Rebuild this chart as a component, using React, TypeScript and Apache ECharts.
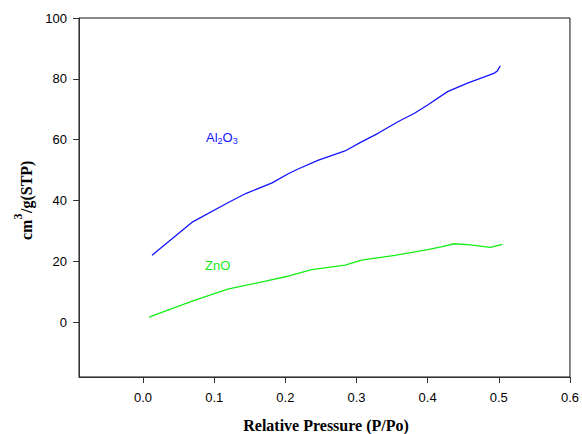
import React, { useEffect, useRef } from "react";
import * as echarts from "echarts";

const pressureAl = [0.0126, 0.0698, 0.1186, 0.1443, 0.1814, 0.2047, 0.2163, 0.2466, 0.2838, 0.307, 0.3303, 0.3582, 0.3815, 0.4, 0.428, 0.456, 0.493, 0.498, 0.502];
const volumeAl = [22.0, 33.0, 39.2, 42.3, 45.8, 48.9, 50.2, 53.3, 56.3, 59.3, 62.1, 65.9, 68.7, 71.4, 75.8, 78.6, 81.8, 82.6, 84.3];

const pressureZn = [0.0084, 0.07, 0.119, 0.172, 0.205, 0.237, 0.284, 0.307, 0.354, 0.4, 0.419, 0.437, 0.46, 0.488, 0.505];
const volumeZn = [1.7, 7.0, 10.9, 13.5, 15.2, 17.3, 18.8, 20.4, 22.0, 23.9, 24.8, 25.8, 25.4, 24.6, 25.6];

const xTicks = [0, 0.1, 0.2, 0.3, 0.4, 0.5, 0.6];
const yTicks = [0, 20, 40, 60, 80, 100];

const BLUE = "#1414ff";
const GREEN = "#14ee14";
const SANS = "'Liberation Sans', Arial, sans-serif";
const SERIF = "'Liberation Serif', 'Times New Roman', serif";

export default function App() {
  const ref = useRef<HTMLDivElement>(null);
  useEffect(() => {
    if (!ref.current) return;
    const chart = echarts.init(ref.current, undefined, { renderer: "svg" });
    const alData = pressureAl.map((p, i) => [p, volumeAl[i]]);
    const znData = pressureZn.map((p, i) => [p, volumeZn[i]]);
    chart.setOption({
      animation: false,
      backgroundColor: "#fff",
      grid: {
        left: 79,
        right: 9,
        top: 18,
        bottom: 57,
        show: true,
        borderColor: "#111",
        borderWidth: 1,
        containLabel: false,
      },
      xAxis: {
        type: "value",
        min: -0.09,
        max: 0.6,
        axisLine: { show: true, onZero: false, lineStyle: { color: "#333", width: 1 } },
        axisTick: { show: true, inside: false, length: 6, customValues: xTicks, lineStyle: { color: "#333" } },
        axisLabel: {
          customValues: xTicks,
          formatter: (v: number) => v.toFixed(1),
          color: "#000",
          fontSize: 13,
          fontFamily: SANS,
          margin: 14,
        },
        splitLine: { show: false },
      },
      yAxis: {
        type: "value",
        min: -18,
        max: 100,
        axisLine: { show: true, onZero: false, lineStyle: { color: "#333", width: 1 } },
        axisTick: { show: true, inside: false, length: 6, customValues: yTicks, lineStyle: { color: "#333" } },
        axisLabel: {
          customValues: yTicks,
          color: "#000",
          fontSize: 13,
          fontFamily: SANS,
          margin: 12,
        },
        splitLine: { show: false },
      },
      series: [
        {
          type: "line",
          data: alData,
          showSymbol: false,
          smooth: false,
          lineStyle: { color: BLUE, width: 1.3 },
          itemStyle: { color: BLUE },
        },
        {
          type: "line",
          data: znData,
          showSymbol: false,
          smooth: false,
          lineStyle: { color: GREEN, width: 1.3 },
          itemStyle: { color: GREEN },
        },
      ],
      graphic: [
        {
          type: "text",
          x: 326,
          y: 425,
          style: {
            text: "Relative Pressure (P/Po)",
            fontFamily: SERIF,
            fontWeight: "bold",
            fontSize: 16,
            fill: "#000",
            textAlign: "center",
            textVerticalAlign: "middle",
          },
        },
        {
          type: "group",
          x: 26,
          y: 197,
          rotation: Math.PI / 2,
          children: [
            {
              type: "text",
              x: -43,
              y: 0,
              style: { text: "cm", fontFamily: SERIF, fontWeight: "bold", fontSize: 16, fill: "#000", textAlign: "left", textVerticalAlign: "middle" },
            },
            {
              type: "text",
              x: -22.4,
              y: -8,
              style: { text: "3", fontFamily: SERIF, fontWeight: "bold", fontSize: 12, fill: "#000", textAlign: "left", textVerticalAlign: "middle" },
            },
            {
              type: "text",
              x: -16,
              y: 0,
              style: { text: "/g(STP)", fontFamily: SERIF, fontWeight: "bold", fontSize: 16, fill: "#000", textAlign: "left", textVerticalAlign: "middle" },
            },
          ],
        },
        {
          type: "group",
          x: 206,
          y: 137,
          children: [
            { type: "text", x: 0, y: 0, style: { text: "Al", fontFamily: SANS, fontSize: 13, fill: BLUE, textAlign: "left", textVerticalAlign: "middle" } },
            { type: "text", x: 11.6, y: 4, style: { text: "2", fontFamily: SANS, fontSize: 9, fill: BLUE, textAlign: "left", textVerticalAlign: "middle" } },
            { type: "text", x: 16.6, y: 0, style: { text: "O", fontFamily: SANS, fontSize: 13, fill: BLUE, textAlign: "left", textVerticalAlign: "middle" } },
            { type: "text", x: 26.8, y: 4, style: { text: "3", fontFamily: SANS, fontSize: 9, fill: BLUE, textAlign: "left", textVerticalAlign: "middle" } },
          ],
        },
        {
          type: "text",
          x: 205,
          y: 265,
          style: { text: "ZnO", fontFamily: SANS, fontSize: 13, fill: GREEN, textAlign: "left", textVerticalAlign: "middle" },
        },
      ],
    });
    return () => chart.dispose();
  }, []);
  return (
    <div
      ref={ref}
      style={{ position: "fixed", left: 0, top: 0, width: 582, height: 434, background: "#fff" }}
    />
  );
}
